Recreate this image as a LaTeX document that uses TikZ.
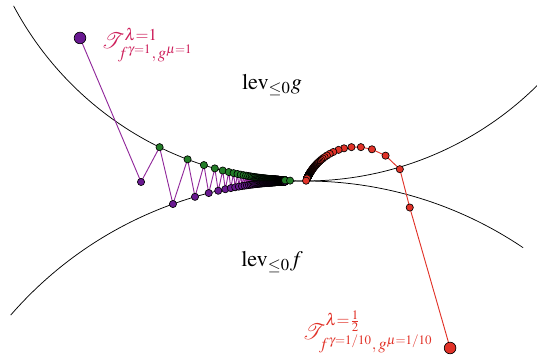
\documentclass[tikz,border=0pt]{standalone}
\usepackage{amsmath,amssymb}
\usepackage{mathptmx}
\usepackage{tikz}
\usetikzlibrary{calc}

\definecolor{iterpurple}{RGB}{105,25,145}
\definecolor{itergreen}{RGB}{35,125,40}
\definecolor{iterred}{RGB}{225,50,40}
\definecolor{pathpurple}{RGB}{145,40,155}
\definecolor{labcrimson}{RGB}{205,30,90}

\tikzset{
  dot/.style={circle,draw=black,line width=0.35pt,inner sep=0pt,minimum size=3.9pt},
  bigdot/.style={dot,minimum size=6.3pt},
}

\begin{document}
\begin{tikzpicture}[scale=1.9]
  \useasboundingbox (0,0) rectangle (5.37,3.54);
  % boundaries of the two level sets
  \draw[line width=0.4pt] (3.05,5.03) ++(208:3.3) arc[start angle=208,end angle=315,radius=3.3];
  \draw[line width=0.4pt] (3.05,-2.17) ++(139:3.9) arc[start angle=139,end angle=56,radius=3.9];
  \node[font=\large] (levg) at (2.72,2.69) {$\mathrm{lev}_{\leq 0}g$};
  \node[font=\large] (levf) at (2.72,0.92) {$\mathrm{lev}_{\leq 0}f$};

  % gamma=1 iterates: purple on f, green on g
  \coordinate (p0) at (0.80,3.16);
  \coordinate (p1) at (1.41,1.72);
  \foreach \k in {2,...,400} {
    \pgfmathsetmacro\xx{2.90-2.066*pow(\k+0.5,-0.62)}
    \coordinate (p\k) at (\xx,{-2.17+sqrt(15.21-(\xx-3.05)^2)});
  }
  \foreach \k in {1,...,400} {
    \pgfmathsetmacro\xx{2.90-2.066*pow(\k+1.1,-0.62)}
    \coordinate (g\k) at (\xx,{5.03-sqrt(10.89-(\xx-3.05)^2)});
  }
  \coordinate (gend) at (2.90,{5.03-sqrt(10.89-0.0225)});
  \draw[pathpurple,line width=0.5pt] (p0) \foreach \k in {1,...,400} {-- (p\k) -- (g\k)} -- (gend);
  \node[bigdot,fill=iterpurple] at (p0) {};
  \foreach \k in {1,...,400} {
    \node[dot,fill=iterpurple] at (p\k) {};
    \node[dot,fill=itergreen] at (g\k) {};
  }
  \node[dot,fill=itergreen] at (gend) {};

  % gamma=1/10 iterates
  \coordinate (c) at (3.56,1.53);
  \coordinate (r0) at (4.50,0.06);
  \foreach \a [count=\k] in {-7,36,57,73,85,95,103,109,115}
    \coordinate (r\k) at ($(c)+(\a:0.54)$);
  \foreach \k in {10,...,150}
    \coordinate (r\k) at ($(c)+({158-387/\k}:0.54)$);
  \coordinate (r151) at ($(c)+(158:0.54)$);
  \draw[iterred,line width=0.5pt] (r0) \foreach \k in {1,...,151} {-- (r\k)};
  \node[bigdot,fill=iterred] at (r0) {};
  \foreach \k in {1,...,151}
    \node[dot,fill=iterred] at (r\k) {};

  \node[text=labcrimson,anchor=west,font=\large] (lab1) at (0.95,3.09)
    {$\mathcal{T}^{\lambda=1}_{f^{\gamma=1},\,g^{\mu=1}}$};
  \node[text=iterred,anchor=west,font=\large] (lab2) at (2.96,0.22)
    {$\mathcal{T}^{\lambda=\frac{1}{2}}_{f^{\gamma=1/10},\,g^{\mu=1/10}}$};
\end{tikzpicture}
\end{document}
